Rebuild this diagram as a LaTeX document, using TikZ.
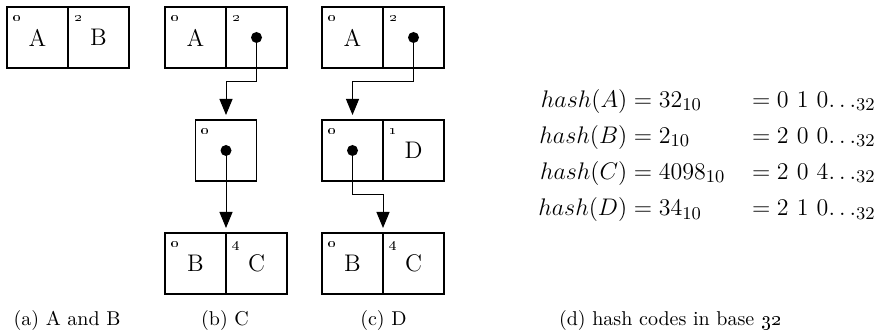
\documentclass[tikz,border=0pt]{standalone}
\usepackage{amsmath}
\usetikzlibrary{positioning,arrows.meta}

\tikzset{
  cell/.style={draw, line width=0.6pt, minimum width=30.5pt, minimum height=30.5pt,
    inner sep=0pt, outer sep=0pt, font=\large},
  num/.style={font=\scriptsize, anchor=base west, inner sep=0pt, xshift=3pt, yshift=-7.5pt},
  dot/.style={circle, fill, inner sep=0pt, minimum size=5.5pt},
  ptr/.style={line width=0.5pt, -{Triangle[width=6.5pt,length=8pt]}, shorten >=2.5pt},
  subcap/.style={font=\normalsize}
}

\begin{document}
\begin{tikzpicture}[x=0.5pt,y=-0.5pt]
  \useasboundingbox (0,0) rectangle (881,335);

  % (a) A and B side by side
  \node[cell, label={[num]north west:\oldstylenums{0}}] (aL) at (37.5,37.5) {A};
  \node[cell, right=0pt of aL, label={[num]north west:\oldstylenums{2}}] (aR) {B};

  % (b) C pushes B one level down
  \node[cell, label={[num]north west:\oldstylenums{0}}] (bTL) at (195.5,37.5) {A};
  \node[cell, right=0pt of bTL, label={[num]north west:\oldstylenums{2}}] (bTR) {};
  \node[cell, label={[num]north west:\oldstylenums{0}}] (bM) at (226,150.5) {};
  \node[cell, label={[num]north west:\oldstylenums{0}}] (bBL) at (195.5,263.5) {B};
  \node[cell, right=0pt of bBL, label={[num]north west:\oldstylenums{4}}] (bBR) {C};

  \node[dot] (bP1) at (bTR) {};
  \node[dot] (bP2) at (bM) {};
  \draw[ptr] (bP1.center) -- ++(0,44.5) -| (bM.north);
  \draw[ptr] (bP2.center) -- (bBL.north east);

  % (c) D sits next to the pointer
  \node[cell, label={[num]north west:\oldstylenums{0}}] (cTL) at (352.5,37.5) {A};
  \node[cell, right=0pt of cTL, label={[num]north west:\oldstylenums{2}}] (cTR) {};
  \node[cell, label={[num]north west:\oldstylenums{0}}] (cML) at (352.5,150.5) {};
  \node[cell, right=0pt of cML, label={[num]north west:\oldstylenums{1}}] (cMR) {D};
  \node[cell, label={[num]north west:\oldstylenums{0}}] (cBL) at (352.5,263.5) {B};
  \node[cell, right=0pt of cBL, label={[num]north west:\oldstylenums{4}}] (cBR) {C};

  \node[dot] (cP1) at (cTR) {};
  \node[dot] (cP2) at (cML) {};
  \draw[ptr] (cP1.center) -- ++(0,44.5) -| (cML.north);
  \draw[ptr] (cP2.center) -- ++(0,44.5) -| (cBL.north east);

  % (d) the hash codes
  \node[font=\fontsize{12.5}{14}\selectfont] (hash) at (707,154) {%
    \renewcommand{\arraystretch}{1.29}%
    $\begin{array}{@{}r@{}l@{\hspace{10pt}}l@{}}
      hash(A) & {}= 32_{10}   & {}= 0\ 1\ 0{\ldots}_{32} \\
      hash(B) & {}= 2_{10}    & {}= 2\ 0\ 0{\ldots}_{32} \\
      hash(C) & {}= 4098_{10} & {}= 2\ 0\ 4{\ldots}_{32} \\
      hash(D) & {}= 34_{10}   & {}= 2\ 1\ 0{\ldots}_{32}
    \end{array}$};

  % captions
  \node[subcap] (capA) at (67,321) {(a) A and B};
  \node[subcap] (capB) at (225,321) {(b) C};
  \node[subcap] (capC) at (383.5,321) {(c) D};
  \node[subcap] (capD) at (670,321) {(d) hash codes in base \oldstylenums{32}};
\end{tikzpicture}
\end{document}
